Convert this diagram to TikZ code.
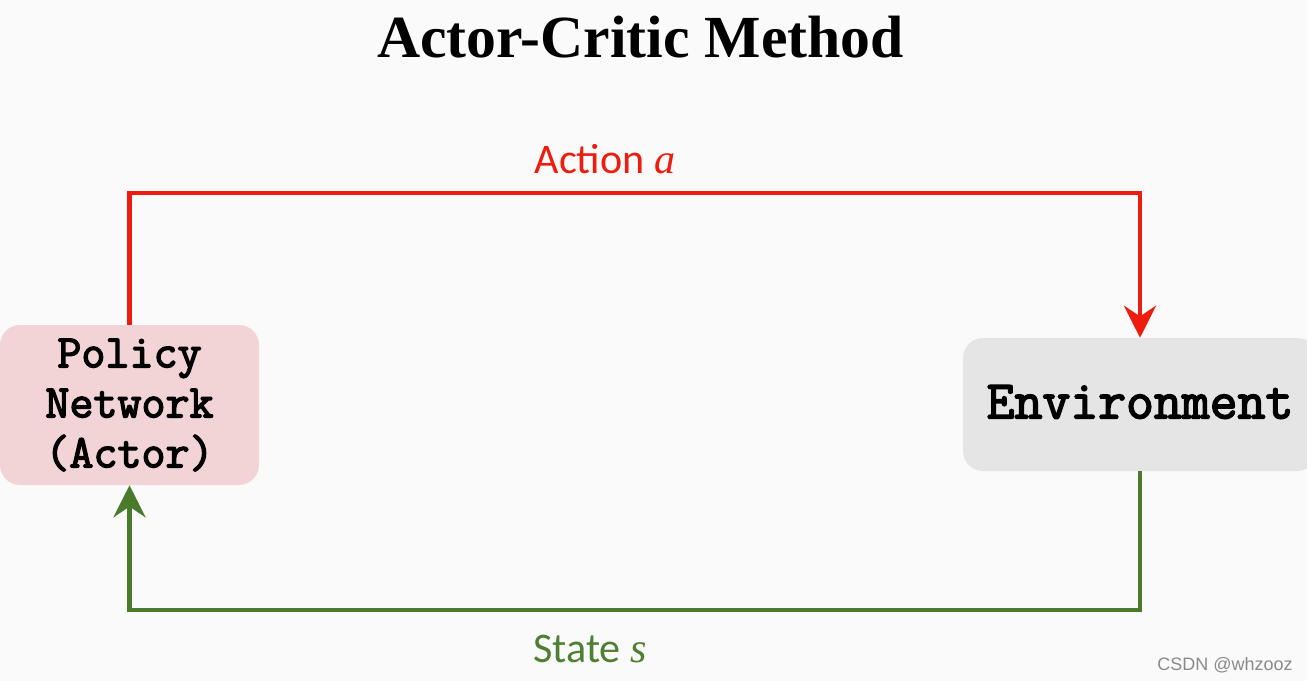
\documentclass[tikz,border=0pt]{standalone}
\usepackage{fontspec}
\setmainfont{Liberation Serif}
\newfontfamily\carl{Carlito}
\newfontfamily\lsans{Liberation Sans}
\newfontfamily\ttb{Latin Modern Mono}[FakeBold=3]
\usetikzlibrary{arrows.meta}
\definecolor{bg}{HTML}{FAFAFA}
\definecolor{actred}{HTML}{EE1C0F}
\definecolor{stgreen}{HTML}{4A7B2C}
\definecolor{lblgreen}{HTML}{4F7F32}
\definecolor{pinkfill}{HTML}{F3D4D6}
\definecolor{greyfill}{HTML}{E5E5E5}
\definecolor{wmgrey}{HTML}{8A8A8A}
\tikzset{
  box/.style={rounded corners=15pt, inner sep=0pt, align=center},
  flow/.style={line width=3.6pt, -{Stealth[length=24pt, width=24pt, inset=8pt]}},
}
\begin{document}
\begin{tikzpicture}[x=0.75pt, y=-0.75pt]
\useasboundingbox (0,0) rectangle (1307,681);
\fill[bg] (0,0) rectangle (1307,681);
\clip (0,0) rectangle (1307,681);

\node[anchor=base, font=\bfseries\fontsize{44.8pt}{50pt}\selectfont] (title) at (640.5,58) {Actor-Critic Method};

\node[box, fill=pinkfill, minimum width=194.25pt, minimum height=120pt,
      font=\ttb\fontsize{35pt}{37.5pt}\selectfont] (pol) at (129.5,405) {Policy\\Network\\(Actor)};
\node[box, fill=greyfill, minimum width=265.5pt, minimum height=99.75pt, text depth=4pt,
      font=\ttb\fontsize{40.6pt}{44pt}\selectfont] (env) at (1140,404.5) {Environment};

\coordinate (top) at (0,193);
\coordinate (bot) at (0,610);

\draw[flow, actred] (pol.north) -- (pol.north |- top) -| (env.north);
\draw[flow, stgreen] (env.south) -- (env.south |- bot) -| (pol.south);

\node[anchor=base, text=actred, font=\carl\fontsize{31.6pt}{36pt}\selectfont] (act) at (605,174) {Action {\rmfamily\itshape a}};
\node[anchor=base, text=lblgreen, font=\carl\fontsize{31.6pt}{36pt}\selectfont] (st) at (590,662) {State {\rmfamily\itshape s}};

\node[anchor=base west, inner sep=0pt, text=wmgrey, font=\lsans\fontsize{13.5pt}{16pt}\selectfont] (wm) at (1157,670) {CSDN @whzooz};
\end{tikzpicture}
\end{document}
